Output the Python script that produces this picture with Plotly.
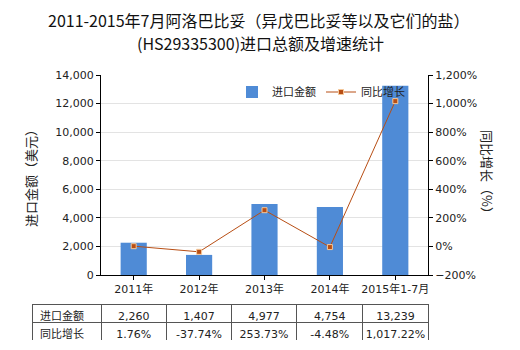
import plotly.graph_objects as go

categories = ["2011年", "2012年", "2013年", "2014年", "2015年1-7月"]
import_values = [2260, 1407, 4977, 4754, 13239]
growth_pct = [1.76, -37.74, 253.73, -4.48, 1017.22]
row_labels = ["进口金额", "同比增长"]
series_names = ["进口金额", "同比增长"]
title_lines = ["2011-2015年7月阿洛巴比妥（异戊巴比妥等以及它们的盐）",
               "(HS29335300)进口总额及增速统计"]

W, H = 520, 350
ml, mr, mt, mb = 32, 92, 75, 10
pw, ph = W - ml - mr, H - mt - mb

FONT = "DejaVu Sans, Noto Sans CJK SC, sans-serif"
CJK = "Noto Sans CJK SC, sans-serif"
BAR = "#4F8BD6"
LINE = "#B84E14"

fig = go.Figure()
fig.add_trace(go.Bar(x=categories, y=import_values, name=series_names[0],
                     marker=dict(color=BAR, line=dict(width=0)), width=0.4,
                     xaxis="x", yaxis="y"))
fig.add_trace(go.Scatter(x=categories, y=growth_pct, name=series_names[1],
                         mode="lines+markers",
                         line=dict(color=LINE, width=1),
                         marker=dict(symbol="square", size=5, color=LINE,
                                     line=dict(color="#F5C89A", width=1)),
                         xaxis="x", yaxis="y2"))

fmt_vals = [f"{v:,}" for v in import_values]
fmt_pct = [f"{v:,.2f}%" for v in growth_pct]
header_vals = [row_labels[0]] + fmt_vals
cell_vals = [[row_labels[1]]] + [[p] for p in fmt_pct]
fig.add_trace(go.Table(
    domain=dict(x=[0, 1], y=[0, (340 - 304) / ph]),
    columnwidth=[69, 65, 65, 65, 66, 65],
    header=dict(values=header_vals, height=18, fill_color="white",
                line=dict(color="#555555", width=1),
                align=["left"] + ["center"] * 5,
                font=dict(family=FONT, size=11, color="#222222")),
    cells=dict(values=cell_vals, height=18, fill_color="white",
               line=dict(color="#555555", width=1),
               align=["left"] + ["center"] * 5,
               font=dict(family=FONT, size=11, color="#222222")),
))

ybot = (H - mb - 275) / ph
xleft = (101 - ml) / pw

def py(ypix):
    return (H - mb - ypix) / ph

def px(xpix):
    return (xpix - ml) / pw

fig.update_layout(
    width=W, height=H,
    margin=dict(l=ml, r=mr, t=mt, b=mb, autoexpand=False),
    paper_bgcolor="white", plot_bgcolor="white",
    font=dict(family=FONT, size=11, color="#222222"),
    showlegend=True,
    legend=dict(orientation="h", x=px(232), y=py(92),
                xanchor="left", yanchor="middle",
                font=dict(family=CJK, size=11, color="#222222"),
                bgcolor="rgba(0,0,0,0)", itemwidth=30, tracegroupgap=0),
    xaxis=dict(domain=[xleft, 1], anchor="y", showline=True, linecolor="#000000",
               ticks="outside", ticklen=4, tickcolor="#000000", automargin=False,
               tickfont=dict(family=FONT, size=11, color="#222222"),
               showgrid=False),
    yaxis=dict(domain=[ybot, 1], anchor="x", range=[0, 14000], dtick=2000,
               tickformat=",", showline=True, linecolor="#000000",
               ticks="outside", ticklen=4, tickcolor="#000000", automargin=False,
               gridcolor="#E3E3E3", zeroline=False,
               tickfont=dict(family=FONT, size=11, color="#222222")),
    yaxis2=dict(overlaying="y", side="right", anchor="x", range=[-200, 1200],
                dtick=200, tickformat=",", ticksuffix="%", showline=True,
                linecolor="#000000", ticks="outside", ticklen=4, automargin=False,
                tickcolor="#000000", showgrid=False, zeroline=False,
                tickfont=dict(family=FONT, size=11, color="#222222")),
    annotations=[
        dict(text=title_lines[0], xref="paper", yref="paper", x=px(258), y=py(20),
             xanchor="center", yanchor="middle", showarrow=False,
             font=dict(family=CJK, size=16, color="#111111")),
        dict(text=title_lines[1], xref="paper", yref="paper", x=px(260), y=py(43),
             xanchor="center", yanchor="middle", showarrow=False,
             font=dict(family=CJK, size=16, color="#111111")),
        dict(text="进口金额（美元）", xref="paper", yref="paper",
             x=px(30), y=py(175), textangle=-90,
             xanchor="center", yanchor="middle", showarrow=False,
             font=dict(family=CJK, size=13, color="#222222")),
        dict(text="同比增长（%）", xref="paper", yref="paper",
             x=px(488), y=py(175), textangle=90,
             xanchor="center", yanchor="middle", showarrow=False,
             font=dict(family=CJK, size=13, color="#222222")),
    ],
)

fig.write_html("out.html")
